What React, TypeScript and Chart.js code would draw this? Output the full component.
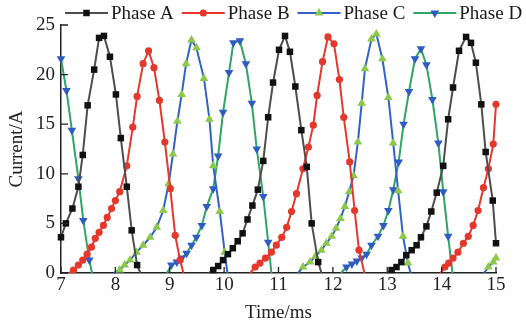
import React, { useEffect, useRef } from 'react';
import { Chart, registerables } from 'chart.js';

Chart.register(...registerables);

const FONT_FAMILY = "'Liberation Serif', 'Times New Roman', serif";

// Axis ranges / ticks
const xTicks = [7, 8, 9, 10, 11, 12, 13, 14, 15];
const yTicks = [0, 5, 10, 15, 20, 25];
const seriesNames = ['Phase A', 'Phase B', 'Phase C', 'Phase D'];

// Phase A (null marks a gap between pulses)
const phaseATime = [7.00, 7.09, 7.21, 7.32, 7.40, 7.49, 7.61, 7.70, 7.79, 7.90, 8.01, 8.10, 8.21, 8.30, 8.40, 8.46, 9.0,
  9.72, 9.80, 9.89, 9.98, 10.07, 10.16, 10.25, 10.34, 10.43, 10.52, 10.62, 10.72, 10.81, 10.90, 11.01, 11.12, 11.21, 11.31, 11.42, 11.52, 11.61, 11.73, 11.79, 12.4,
  13.00, 13.08, 13.17, 13.26, 13.35, 13.45, 13.54, 13.62, 13.72, 13.81, 13.91, 14.03, 14.12, 14.21, 14.32, 14.45, 14.54, 14.63, 14.73, 14.81, 14.94, 15.00];
const phaseACurrent = [3.6, 5.0, 6.5, 8.7, 11.9, 16.9, 20.5, 23.7, 23.9, 21.8, 18.0, 13.6, 8.7, 4.3, 0.8, 0, null,
  0, 0.3, 0.7, 1.3, 1.9, 2.5, 3.2, 4.0, 5.4, 6.8, 8.4, 11.3, 15.7, 19.2, 22.5, 23.9, 22.3, 18.8, 14.4, 10.7, 5.0, 1.1, 0, null,
  0, 0.3, 0.6, 1.1, 1.8, 2.3, 2.8, 3.6, 4.7, 6.2, 8.1, 10.8, 15.5, 18.7, 22.4, 23.8, 23.2, 21.2, 17.0, 12.2, 7.3, 3.0];

// Phase B
const phaseBTime = [7.15, 7.23, 7.32, 7.40, 7.48, 7.56, 7.63, 7.70, 7.78, 7.85, 7.93, 8.00, 8.08, 8.21, 8.32, 8.40, 8.51, 8.61, 8.71, 8.81, 8.91, 9.01, 9.10, 9.19, 9.25, 9.9,
  10.48, 10.57, 10.66, 10.76, 10.87, 10.96, 11.06, 11.15, 11.24, 11.33, 11.45, 11.55, 11.64, 11.71, 11.81, 11.91, 12.02, 12.12, 12.20, 12.31, 12.40, 12.48, 12.58, 13.3,
  13.98, 14.06, 14.13, 14.21, 14.30, 14.40, 14.49, 14.58, 14.67, 14.77, 14.86, 14.95, 15.00];
const phaseBCurrent = [0, 0.3, 0.8, 1.3, 1.9, 2.6, 3.5, 4.1, 4.8, 5.6, 6.5, 7.3, 8.2, 10.8, 14.7, 17.8, 21.1, 22.4, 20.7, 17.4, 13.2, 8.5, 3.8, 1.3, 0, null,
  0, 0.6, 1.0, 1.5, 2.1, 2.8, 3.6, 4.6, 6.2, 8.0, 10.5, 12.7, 14.9, 17.9, 21.3, 23.8, 23.1, 19.5, 15.7, 11.2, 6.3, 2.3, 0, null,
  0, 0.6, 1.0, 1.5, 2.1, 3.0, 3.7, 4.8, 6.3, 8.6, 10.5, 13.0, 17.0];

// Phase C
const phaseCTime = [7.97, 8.08, 8.17, 8.27, 8.39, 8.51, 8.64, 8.76, 8.88, 8.98, 9.06, 9.14, 9.22, 9.30, 9.40, 9.49, 9.63, 9.73, 9.80, 9.92, 10.01, 10.06, 10.8,
  11.36, 11.45, 11.58, 11.68, 11.79, 11.88, 11.98, 12.06, 12.14, 12.22, 12.30, 12.38, 12.46, 12.53, 12.59, 12.71, 12.80, 12.91, 13.02, 13.11, 13.20, 13.29, 13.38, 13.43, 14.1,
  14.78, 14.86, 14.95, 15.00];
const phaseCCurrent = [0, 0.3, 0.8, 1.3, 2.1, 2.8, 3.6, 4.6, 6.3, 9.0, 12.0, 15.3, 18.0, 21.1, 23.5, 22.7, 19.6, 15.5, 10.8, 6.2, 2.1, 0, null,
  0, 0.6, 1.1, 1.7, 2.3, 3.0, 3.7, 4.5, 5.5, 6.7, 8.2, 9.8, 13.2, 17.1, 20.6, 23.6, 24.1, 21.6, 17.7, 13.1, 8.3, 3.7, 1.0, 0, null,
  0, 0.6, 1.1, 1.5];

// Phase D
const phaseDTime = [7.00, 7.10, 7.20, 7.32, 7.41, 7.52, 7.57, 8.2,
  8.95, 9.03, 9.13, 9.22, 9.31, 9.40, 9.49, 9.59, 9.68, 9.80, 9.89, 9.98, 10.09, 10.17, 10.29, 10.40, 10.51, 10.60, 10.72, 10.81, 10.87, 11.5,
  12.15, 12.25, 12.35, 12.44, 12.53, 12.62, 12.71, 12.83, 12.93, 13.02, 13.11, 13.21, 13.30, 13.40, 13.51, 13.62, 13.72, 13.83, 13.94, 14.03, 14.12, 14.20];
const phaseDCurrent = [21.6, 18.4, 14.4, 9.5, 5.3, 1.3, 0, null,
  0, 0.8, 1.1, 1.5, 2.0, 2.8, 3.6, 4.8, 6.7, 8.5, 11.8, 16.2, 20.2, 23.2, 23.4, 21.1, 17.1, 12.5, 7.7, 3.1, 0, null,
  0, 0.6, 0.9, 1.2, 1.5, 1.9, 2.8, 3.7, 4.8, 6.3, 8.4, 11.2, 15.0, 18.3, 21.6, 22.6, 21.0, 17.5, 13.1, 8.2, 3.7, 0];

const styles = [
  { line: '#4d4d4d', marker: '#111111', point: 'rect', radius: 4.6, rotation: 0 },
  { line: '#e5382d', marker: '#e5382d', point: 'circle', radius: 3.6, rotation: 0 },
  { line: '#3263c4', marker: '#8cc84a', point: 'triangle', radius: 5, rotation: 0 },
  { line: '#2fa566', marker: '#2f5cc0', point: 'triangle', radius: 5, rotation: 180 },
];

function toPoints(times: number[], values: (number | null)[]) {
  return times.map((t, i) => ({ x: t, y: values[i] }));
}

function drawMarker(ctx: CanvasRenderingContext2D, kind: string, x: number, y: number, r: number, rotation: number, color: string) {
  ctx.save();
  ctx.fillStyle = color;
  ctx.beginPath();
  if (kind === 'rect') {
    const s = Math.SQRT1_2 * r;
    ctx.rect(x - s, y - s, 2 * s, 2 * s);
  } else if (kind === 'circle') {
    ctx.arc(x, y, r, 0, Math.PI * 2);
  } else {
    let rad = (rotation * Math.PI) / 180;
    ctx.moveTo(x + Math.sin(rad) * r, y - Math.cos(rad) * r);
    rad += (2 * Math.PI) / 3;
    ctx.lineTo(x + Math.sin(rad) * r, y - Math.cos(rad) * r);
    rad += (2 * Math.PI) / 3;
    ctx.lineTo(x + Math.sin(rad) * r, y - Math.cos(rad) * r);
    ctx.closePath();
  }
  ctx.fill();
  ctx.restore();
}

const inwardTicks = {
  id: 'inwardTicks',
  afterDraw(chart: any) {
    const { ctx, chartArea } = chart;
    const xs = chart.scales.x;
    const ys = chart.scales.y;
    ctx.save();
    ctx.strokeStyle = '#222';
    ctx.lineWidth = 1.3;
    ctx.beginPath();
    xs.ticks.forEach((t: any) => {
      const px = xs.getPixelForValue(t.value);
      ctx.moveTo(px, chartArea.bottom);
      ctx.lineTo(px, chartArea.bottom - 6);
    });
    ys.ticks.forEach((t: any) => {
      const py = ys.getPixelForValue(t.value);
      ctx.moveTo(chartArea.left, py);
      ctx.lineTo(chartArea.left + 7, py);
    });
    ctx.stroke();
    ctx.restore();
  },
};

const lineLegend = {
  id: 'lineLegend',
  afterDraw(chart: any) {
    const { ctx } = chart;
    ctx.save();
    ctx.font = `19px ${FONT_FAMILY}`;
    ctx.textBaseline = 'middle';
    ctx.textAlign = 'left';
    let x = 65;
    const y = 13;
    chart.data.datasets.forEach((ds: any, i: number) => {
      const st = styles[i];
      ctx.strokeStyle = st.line;
      ctx.lineWidth = 2;
      ctx.beginPath();
      ctx.moveTo(x, y);
      ctx.lineTo(x + 43, y);
      ctx.stroke();
      drawMarker(ctx, st.point, x + 21.5, y, st.radius, st.rotation, st.marker);
      ctx.fillStyle = '#1a1a1a';
      ctx.fillText(ds.label, x + 46, y + 1);
      x += 46 + ctx.measureText(ds.label).width + 8;
    });
    ctx.restore();
  },
};

export default function App() {
  const ref = useRef<HTMLCanvasElement>(null);
  useEffect(() => {
    document.body.style.margin = '0';
    const series = [
      toPoints(phaseATime, phaseACurrent),
      toPoints(phaseBTime, phaseBCurrent),
      toPoints(phaseCTime, phaseCCurrent),
      toPoints(phaseDTime, phaseDCurrent),
    ];
    const chart = new Chart(ref.current as HTMLCanvasElement, {
      type: 'line',
      data: {
        datasets: series.map((data, i) => ({
          label: seriesNames[i],
          data,
          borderColor: styles[i].line,
          backgroundColor: styles[i].marker,
          pointBackgroundColor: styles[i].marker,
          pointBorderColor: styles[i].marker,
          pointBorderWidth: 0,
          pointStyle: styles[i].point as any,
          pointRotation: styles[i].rotation,
          pointRadius: (c: any) => (c.raw && c.raw.y === 0 ? 0 : styles[i].radius),
          borderWidth: 2,
          tension: 0,
          spanGaps: false,
          fill: false,
          clip: false as any,
        })),
      },
      options: {
        responsive: false,
        animation: false,
        devicePixelRatio: 1,
        parsing: false as any,
        layout: { padding: { top: 25, right: 30, left: 0, bottom: 0 } },
        plugins: { legend: { display: false }, tooltip: { enabled: false } },
        scales: {
          x: {
            type: 'linear',
            min: 7,
            max: 15,
            afterFit: (s: any) => { s.height = 61; },
            afterBuildTicks: (s: any) => { s.ticks = xTicks.map((v) => ({ value: v })); },
            grid: { display: false, drawTicks: false },
            border: { display: true, color: '#222', width: 1.5 },
            ticks: { color: '#222', padding: 1, font: { family: FONT_FAMILY, size: 19 }, maxRotation: 0 },
            title: { display: true, text: 'Time/ms', color: '#222', font: { family: FONT_FAMILY, size: 19 }, padding: { top: 0, bottom: 10 } },
          },
          y: {
            type: 'linear',
            min: 0,
            max: 25,
            afterFit: (s: any) => { s.width = 61; },
            afterBuildTicks: (s: any) => { s.ticks = yTicks.map((v) => ({ value: v })); },
            grid: { display: false, drawTicks: false },
            border: { display: true, color: '#222', width: 1.5 },
            ticks: { color: '#222', padding: 6, font: { family: FONT_FAMILY, size: 19 } },
            title: { display: true, text: 'Current/A', color: '#222', font: { family: FONT_FAMILY, size: 19 }, padding: { top: 6, bottom: 0 } },
          },
        },
      },
      plugins: [inwardTicks, lineLegend],
    });
    return () => chart.destroy();
  }, []);
  return (
    <div style={{ width: 526, height: 334 }}>
      <canvas ref={ref} width={526} height={334} style={{ display: 'block' }} />
    </div>
  );
}
